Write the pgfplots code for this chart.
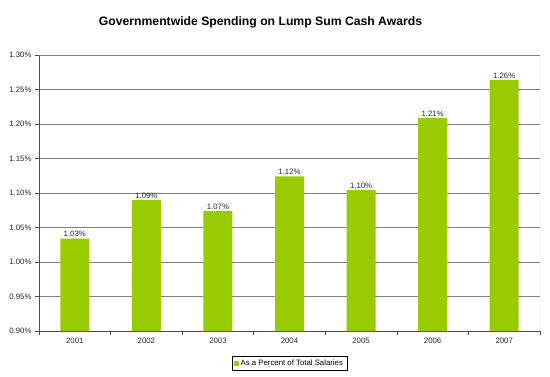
\documentclass[border=0pt]{standalone}
\usepackage{fontspec}
\setmainfont{Liberation Sans}
\usepackage{pgfplots}
\pgfplotsset{compat=1.18}
\definecolor{barg}{RGB}{153,204,0}
\definecolor{gridg}{RGB}{128,128,128}
\begin{document}
\begin{tikzpicture}
\useasboundingbox (-39pt,-45pt) rectangle (511pt,331pt);
\begin{axis}[
  at={(0,0)}, anchor=south west,
  scale only axis, width=501pt, height=276pt,
  xmin=-0.5, xmax=6.5, ymin=0.9, ymax=1.3,
  axis lines*=left,
  axis line style={draw=black!70, line width=0.6pt},
  xtick={0,1,2,3,4,5,6},
  xticklabels={2001,2002,2003,2004,2005,2006,2007},
  major x tick style={draw=none},
  minor xtick={-0.5,0.5,1.5,2.5,3.5,4.5,5.5,6.5},
  minor x tick style={draw=black!70, line width=0.6pt},
  minor tick length=4pt,
  major tick length=4pt,
  tick align=outside,
  ytick={0.9,0.95,1.0,1.05,1.1,1.15,1.2,1.25,1.3},
  y tick style={draw=black!70, line width=0.6pt},
  ymajorgrids,
  grid style={gridg, line width=0.8pt},
  /pgf/number format/assume math mode=true,
  yticklabel={\pgfmathprintnumber[fixed,fixed zerofill,precision=2]{\tick}\%},
  tick label style={font=\fontsize{7.8}{9}\selectfont, text=black!85},
  ybar, bar width=29pt,
  nodes near coords={\pgfmathprintnumber[fixed,fixed zerofill,precision=2]{\pgfplotspointmeta}\%},
  nodes near coords style={font=\fontsize{7.8}{9}\selectfont, text=black!85, inner sep=1.5pt, anchor=south},
  legend style={at={(0.5,-0.1178)}, anchor=center, draw=black, line width=0.5pt,
    font=\fontsize{7.8}{9}\selectfont, inner xsep=2pt, inner ysep=1.5pt},
  legend image code/.code={\fill[barg] (0pt,-2.3pt) rectangle (4.6pt,2.3pt);},
]
\addplot[fill=barg, draw=none] coordinates {
  (0,1.034) (1,1.090) (2,1.074) (3,1.124) (4,1.104) (5,1.209) (6,1.264)
};
\addlegendentry{As a Percent of Total Salaries}
\draw[gridg, line width=0.6pt, densely dotted] (rel axis cs:0,1) -- (rel axis cs:1,1) -- (rel axis cs:1,0);
\end{axis}
\node[anchor=base, font=\fontsize{12.2}{14}\selectfont\bfseries] at (221.5pt,305.5pt) {Governmentwide Spending on Lump Sum Cash Awards};
\end{tikzpicture}
\end{document}
